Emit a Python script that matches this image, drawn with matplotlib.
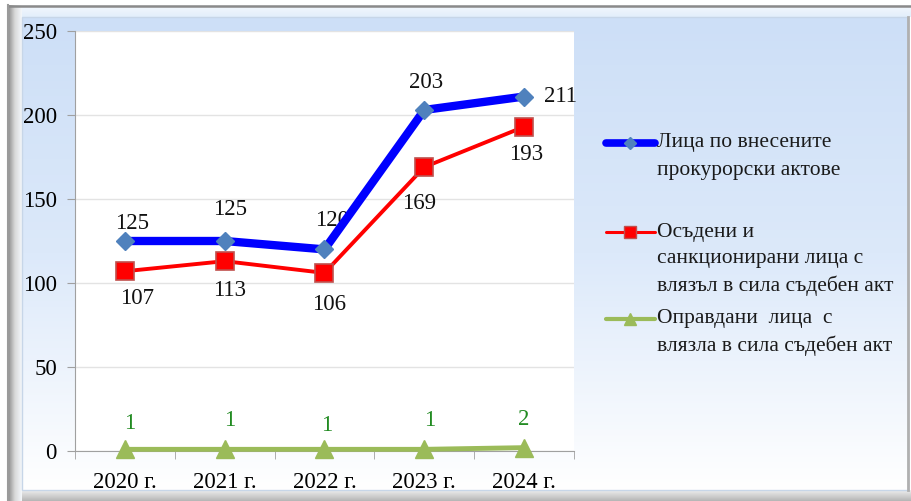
import numpy as np
import matplotlib
matplotlib.use('Agg')
import matplotlib.pyplot as plt
from matplotlib.colors import LinearSegmentedColormap
from matplotlib.patches import Rectangle

plt.rcParams['font.family'] = ['Liberation Serif', 'DejaVu Serif']

years = ['2020 г.', '2021 г.', '2022 г.', '2023 г.', '2024 г.']
persons_charged = [125, 125, 120, 203, 211]
convicted = [107, 113, 106, 169, 193]
acquitted = [1, 1, 1, 1, 2]

legend_labels = [
    ['Лица по внесените', 'прокурорски актове'],
    ['Осъдени и', 'санкционирани лица с', 'влязъл в сила съдебен акт'],
    ['Оправдани  лица  с', 'влязла в сила съдебен акт'],
]

# label offsets in pixels (dx, dy), dy up
charged_offsets = [(7, 18), (5, 32), (8, 29), (2, 27), (36, 0)]
convicted_offsets = [(12, -27), (5, -29), (5, -32), (-5, -36), (2, -28)]
acquitted_offsets = [(5, 26), (5, 29), (2, 24), (5, 29), (0, 28)]

W, H = 912, 501
fig = plt.figure(figsize=(W / 100, H / 100), dpi=100)
fig.patch.set_facecolor('white')

# background / frame in pixel coords
bg = fig.add_axes([0, 0, 1, 1], zorder=-5)
bg.set_xlim(0, W)
bg.set_ylim(H, 0)
bg.axis('off')

panel_cmap = LinearSegmentedColormap.from_list('panel', ['#cddff7', '#dce9fa', '#ffffff'])
grad = np.linspace(0, 1, 256).reshape(-1, 1)
bg.imshow(grad, cmap=panel_cmap, aspect='auto', extent=(22, 908, 490, 17), origin='upper', zorder=1)

top_cmap = LinearSegmentedColormap.from_list('top', ['#f4f8fd', '#e2eefb'])
bg.imshow(grad, cmap=top_cmap, aspect='auto', extent=(8, 912, 17, 5), origin='upper', zorder=2)

left_cmap = LinearSegmentedColormap.from_list('left', ['#8c8c8c', '#d9d9d9', '#f4f7fb'])
bg.imshow(np.linspace(0, 1, 64).reshape(1, -1), cmap=left_cmap, aspect='auto',
          extent=(8, 22, 501, 5), origin='upper', zorder=2)

bot_cmap = LinearSegmentedColormap.from_list('bot', ['#eeeeee', '#b5b5b5'])
bg.imshow(grad, cmap=bot_cmap, aspect='auto', extent=(22, 912, 501, 490), origin='upper', zorder=2)

bg.plot([8, 912], [5.5, 5.5], color='#8a8a8a', lw=1.8, zorder=3)
bg.plot([8.5, 8.5], [5, 501], color='#9a9a9a', lw=1.5, zorder=3)
bg.add_patch(Rectangle((22, 17), 886, 473, fill=False, edgecolor='#c7d6e8', lw=1, zorder=3))
bg.plot([908, 908], [17, 490], color='#b0b0b0', lw=2, zorder=3)

# legend drawn in pixel coords
leg_x0, leg_x1, text_x = 606, 655, 657
leg_y = [143, 232, 319]
line_step = 27
legend_styles = [
    dict(color='#0000ff', lw=5.5, marker='D', ms=6.5, mfc='#4f81bd', mec='#4f81bd'),
    dict(color='#ff0000', lw=2.2, marker='s', ms=8.5, mfc='#ff0000', mec='#c0504d'),
    dict(color='#9bbb59', lw=3, marker='^', ms=9, mfc='#9bbb59', mec='#9bbb59'),
]
for y0, lines, st in zip(leg_y, legend_labels, legend_styles):
    bg.plot([leg_x0, leg_x1], [y0, y0], color=st['color'], lw=st['lw'],
            solid_capstyle='round', zorder=5)
    bg.plot([(leg_x0 + leg_x1) / 2], [y0], zorder=6, linestyle='none', marker=st['marker'],
            ms=st['ms'], mfc=st['mfc'], mec=st['mec'])
    for i, line in enumerate(lines):
        bg.text(text_x, y0 + i * line_step, line, fontsize=15.5, color='#1a1a1a',
                ha='left', va='center', zorder=6)

# main axes
ax = fig.add_axes([75 / W, 1 - 451 / H, 499 / W, 420 / H])
ax.set_facecolor('white')
x = np.arange(len(years))

ax.plot(x, persons_charged, color='#0000ff', lw=6, marker='D', ms=9.5,
        mfc='#4f81bd', mec='#4f81bd', zorder=4)
ax.plot(x, convicted, color='#ff0000', lw=2.8, marker='s', ms=12.5,
        mfc='#ff0000', mec='#c0504d', mew=1.2, zorder=3)
ax.plot(x, acquitted, color='#9bbb59', lw=3.5, marker='^', ms=13,
        mfc='#9bbb59', mec='#9bbb59', zorder=5, clip_on=False)

for xi, v, off in zip(x, persons_charged, charged_offsets):
    ax.annotate(str(v), (xi, v), xytext=off, textcoords='offset pixels',
                ha='center', va='center', fontsize=16.5, color='#111111')
for xi, v, off in zip(x, convicted, convicted_offsets):
    ax.annotate(str(v), (xi, v), xytext=off, textcoords='offset pixels',
                ha='center', va='center', fontsize=16.5, color='#111111')
for xi, v, off in zip(x, acquitted, acquitted_offsets):
    ax.annotate(str(v), (xi, v), xytext=off, textcoords='offset pixels',
                ha='center', va='center', fontsize=16.5, color='#228b22')

ax.set_xlim(-0.5, len(years) - 0.5)
ax.set_ylim(0, 250)
ax.set_yticks(range(0, 251, 50))
ax.set_xticks(x)
ax.set_xticklabels(years)
ax.set_xticks(np.arange(-0.5, len(years)), minor=True)
ax.tick_params(axis='x', which='major', length=0, pad=15, labelsize=16.5)
ax.tick_params(axis='x', which='minor', length=6, color='#a0a0a0', direction='out')
ax.tick_params(axis='y', length=6, color='#a0a0a0', pad=7, labelsize=16.5)
ax.grid(axis='y', color='#e3e3e3', lw=1)
ax.set_axisbelow(True)
for s in ['top', 'right']:
    ax.spines[s].set_visible(False)
for s in ['left', 'bottom']:
    ax.spines[s].set_color('#a0a0a0')

fig.savefig('out.png', dpi=100)
